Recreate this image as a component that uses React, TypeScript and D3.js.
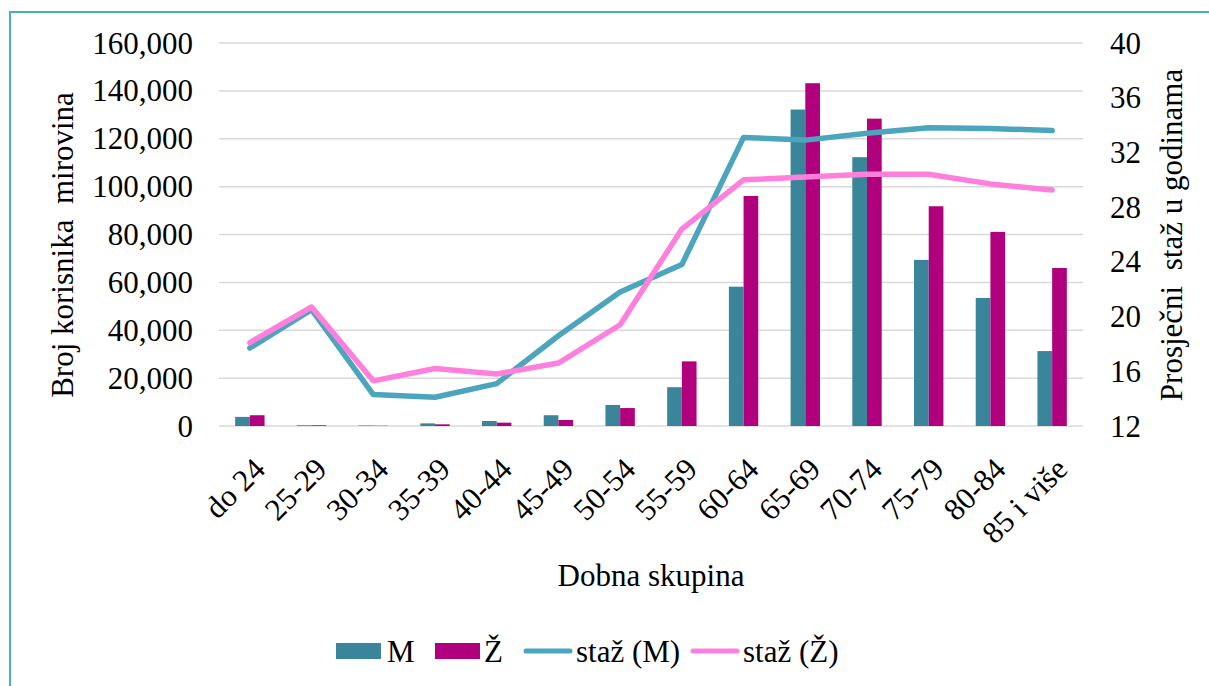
import React from "react";
import * as d3 from "d3";

const categories = ["do 24", "25-29", "30-34", "35-39", "40-44", "45-49", "50-54", "55-59", "60-64", "65-69", "70-74", "75-79", "80-84", "85 i više"];
const countM = [3800, 300, 200, 1100, 2100, 4500, 8800, 16200, 58200, 132200, 112300, 69400, 53500, 31300];
const countZ = [4500, 300, 100, 700, 1400, 2500, 7500, 27000, 96100, 143200, 128400, 91800, 81100, 66000];
const stazM = [17.7, 20.5, 14.3, 14.1, 15.1, 18.6, 21.8, 23.8, 33.1, 32.9, 33.4, 33.8, 33.75, 33.6];
const stazZ = [18.1, 20.7, 15.3, 16.2, 15.8, 16.6, 19.4, 26.4, 30.0, 30.2, 30.4, 30.4, 29.7, 29.25];
const leftTicks = [0, 20000, 40000, 60000, 80000, 100000, 120000, 140000, 160000];
const rightTicks = [12, 16, 20, 24, 28, 32, 36, 40];
const seriesNames = ["M", "Ž", "staž (M)", "staž (Ž)"];

const COL_M = "#3A8599";
const COL_Z = "#B0007E";
const LINE_M = "#4BA5BD";
const LINE_Z = "#FF80DC";
const FONT = "'Liberation Serif', 'Times New Roman', serif";

export default function App() {
  const left = 219, right = 1083, top = 43, bottom = 426;
  const x = d3.scaleBand<string>().domain(categories).range([left, right]).padding(0);
  const x1 = d3.scaleBand<string>().domain(["M", "Ž"]).range([0, x.bandwidth()]).paddingInner(0).paddingOuter(1.1);
  const yL = d3.scaleLinear().domain([0, 160000]).range([bottom, top]);
  const yR = d3.scaleLinear().domain([12, 40]).range([bottom, top]);
  const fmt = d3.format(",");
  const cx = (c: string) => (x(c) as number) + x.bandwidth() / 2;
  const lineM = d3.line<number>().x((_, i) => cx(categories[i])).y((d) => yR(d));
  const fs = 31;

  return (
    <svg width={1209} height={686} style={{ position: "absolute", left: 0, top: 0, background: "#fff" }} fontFamily={FONT}>
      <rect x={0} y={0} width={1209} height={686} fill="#fff" />
      <rect x={10} y={12} width={1230} height={700} fill="none" stroke="#4BACC6" strokeWidth={2} />
      {leftTicks.map((t) => (
        <line key={"g" + t} x1={left} x2={right} y1={yL(t)} y2={yL(t)} stroke="#D9D9D9" strokeWidth={1.5} />
      ))}
      {leftTicks.map((t) => (
        <text key={"l" + t} x={193} y={yL(t) + 10.5} textAnchor="end" fontSize={fs} fill="#000">{fmt(t)}</text>
      ))}
      {rightTicks.map((t) => (
        <text key={"r" + t} x={1110} y={yR(t) + 10.5} textAnchor="start" fontSize={fs} fill="#000">{t}</text>
      ))}
      {categories.map((c, i) => (
        <g key={"b" + c}>
          <rect x={(x(c) as number) + (x1("M") as number)} width={x1.bandwidth()} y={yL(countM[i])} height={bottom - yL(countM[i])} fill={COL_M} />
          <rect x={(x(c) as number) + (x1("Ž") as number)} width={x1.bandwidth()} y={yL(countZ[i])} height={bottom - yL(countZ[i])} fill={COL_Z} />
        </g>
      ))}
      <path d={lineM(stazM) as string} fill="none" stroke={LINE_M} strokeWidth={5.5} strokeLinejoin="round" strokeLinecap="round" />
      <path d={lineM(stazZ) as string} fill="none" stroke={LINE_Z} strokeWidth={5.5} strokeLinejoin="round" strokeLinecap="round" />
      {categories.map((c) => (
        <text key={"x" + c} transform={`translate(${cx(c) + 17},471) rotate(-45)`} textAnchor="end" fontSize={fs} fill="#000">{c}</text>
      ))}
      <text x={651} y={586} textAnchor="middle" fontSize={fs} fill="#000">Dobna skupina</text>
      <text transform={`translate(73,245) rotate(-90)`} textAnchor="middle" fontSize={fs} fill="#000" style={{ whiteSpace: "pre" }}>Broj korisnika  mirovina</text>
      <text transform={`translate(1182,235) rotate(-90)`} textAnchor="middle" fontSize={fs} fill="#000" style={{ whiteSpace: "pre" }}>Prosječni  staž u godinama</text>
      <g>
        <rect x={336} y={643} width={45} height={16} fill={COL_M} />
        <text x={387} y={662} fontSize={fs} fill="#000">{seriesNames[0]}</text>
        <rect x={435} y={643} width={45} height={16} fill={COL_Z} />
        <text x={484} y={662} fontSize={fs} fill="#000">{seriesNames[1]}</text>
        <line x1={526} x2={570} y1={651} y2={651} stroke={LINE_M} strokeWidth={5} strokeLinecap="round" />
        <text x={576} y={662} fontSize={fs} fill="#000">{seriesNames[2]}</text>
        <line x1={693} x2={737} y1={651} y2={651} stroke={LINE_Z} strokeWidth={5} strokeLinecap="round" />
        <text x={743} y={662} fontSize={fs} fill="#000">{seriesNames[3]}</text>
      </g>
    </svg>
  );
}
